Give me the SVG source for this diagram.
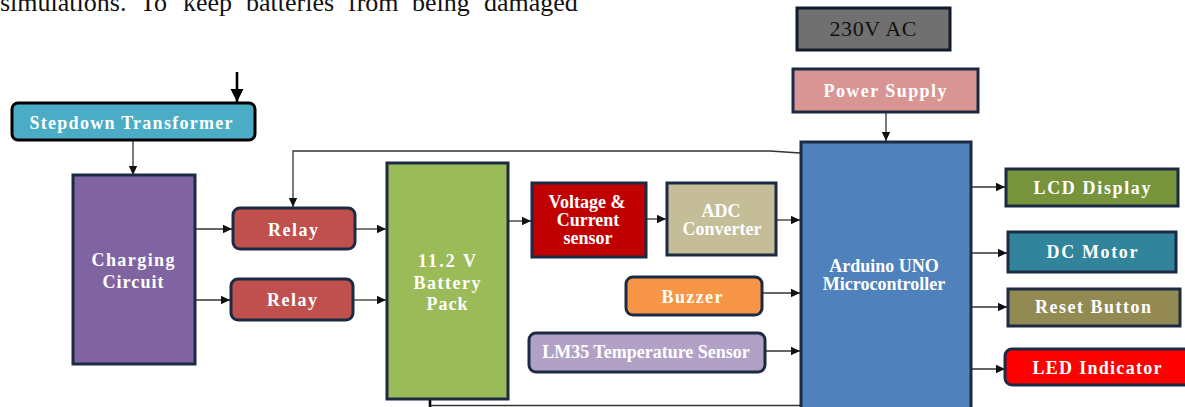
<svg xmlns="http://www.w3.org/2000/svg" width="1185" height="407" viewBox="0 0 1185 407">
<defs>
<marker id="ah" markerUnits="userSpaceOnUse" markerWidth="10" markerHeight="10" refX="9" refY="5" orient="auto">
<path d="M0,0.8 L9,5 L0,9.2 Z" fill="#111"/>
</marker>
<marker id="ahb" markerUnits="userSpaceOnUse" markerWidth="14" markerHeight="14" refX="13" refY="7" orient="auto">
<path d="M0,0.5 L13,7 L0,13.5 Z" fill="#000"/>
</marker>
</defs>
<style>
.bx{stroke:#1c2a44;stroke-width:3}
.lb{font-family:"Liberation Serif","Times New Roman",serif;font-weight:bold;font-size:18px;fill:#fff;text-anchor:middle}
.cn{fill:none;stroke:#333;stroke-width:1.3}
.tk{fill:none;stroke:#000;stroke-width:2.6}
</style>
<rect width="1185" height="407" fill="#fff"/>
<text y="11" font-family="'Liberation Serif','Times New Roman',serif" font-size="26" fill="#111"><tspan x="0">simulations.</tspan><tspan x="140">To</tspan><tspan x="183">keep</tspan><tspan x="246">batteries</tspan><tspan x="348">from</tspan><tspan x="412">being</tspan><tspan x="484">damaged</tspan></text>

<g id="connectors">
<path class="tk" d="M237,72 V102" marker-end="url(#ahb)"/>
<path class="cn" d="M133,140 V175" marker-end="url(#ah)"/>
<path class="cn" d="M800,153 L770,151 H293 V207" marker-end="url(#ah)"/>
<path class="cn" d="M196,229 H232" marker-end="url(#ah)"/>
<path class="cn" d="M196,300 H230" marker-end="url(#ah)"/>
<path class="cn" d="M356,229 H386" marker-end="url(#ah)"/>
<path class="cn" d="M354,300 H386" marker-end="url(#ah)"/>
<path class="cn" d="M509,221 H531" marker-end="url(#ah)"/>
<path class="cn" d="M647,219 H666" marker-end="url(#ah)"/>
<path class="cn" d="M777,220 H800" marker-end="url(#ah)"/>
<path class="cn" d="M763,293 H800" marker-end="url(#ah)"/>
<path class="cn" d="M766,351 H800" marker-end="url(#ah)"/>
<path class="cn" d="M886,112 V141" marker-end="url(#ah)"/>
<path class="cn" d="M972,187 H1005" marker-end="url(#ah)"/>
<path class="cn" d="M972,253 H1007" marker-end="url(#ah)"/>
<path class="cn" d="M972,307 H1007" marker-end="url(#ah)"/>
<path class="cn" d="M972,369 H1005" marker-end="url(#ah)"/>
<path class="cn" d="M430,405.5 H800"/>
<path class="tk" d="M430,407 V321" marker-end="url(#ahb)"/>
</g>

<g id="ac230">
<rect x="797" y="8" width="153" height="42" fill="#707070" stroke="#111a28" stroke-width="3"/>
<text x="873" y="36" font-family="'Liberation Serif','Times New Roman',serif" font-size="22" fill="#111" text-anchor="middle" textLength="87" lengthAdjust="spacing">230V AC</text>
</g>
<g id="power-supply">
<rect class="bx" x="793" y="69" width="185" height="43" fill="#d99594"/>
<text class="lb" x="885" y="97" textLength="123">Power Supply</text>
</g>
<g id="stepdown">
<rect x="12" y="103" width="243" height="37" rx="6" fill="#4bacc6" stroke="#000" stroke-width="3"/>
<text class="lb" x="131" y="129" textLength="203">Stepdown Transformer</text>
</g>
<g id="charging">
<rect class="bx" x="73" y="175" width="122" height="189" fill="#8064a2"/>
<text class="lb" x="133" y="266" textLength="83">Charging</text>
<text class="lb" x="133" y="288" textLength="61">Circuit</text>
</g>
<g id="relay1">
<rect class="bx" x="233" y="208" width="122" height="41" rx="7" fill="#c0504d"/>
<text class="lb" x="293" y="236" textLength="50">Relay</text>
</g>
<g id="relay2">
<rect class="bx" x="231" y="279" width="122" height="41" rx="7" fill="#c0504d"/>
<text class="lb" x="292" y="306" textLength="50">Relay</text>
</g>
<g id="battery">
<rect class="bx" x="387" y="163" width="121" height="236" fill="#9bbb59"/>
<text class="lb" x="447" y="267" textLength="58">11.2 V</text>
<text class="lb" x="447" y="289" textLength="67">Battery</text>
<text class="lb" x="447" y="310" textLength="41">Pack</text>
</g>
<g id="vc-sensor">
<rect class="bx" x="532" y="183" width="114" height="74" fill="#c00000"/>
<text class="lb" x="587" y="208" font-size="14">Voltage &amp;</text>
<text class="lb" x="588" y="226" font-size="14">Current</text>
<text class="lb" x="588" y="244" font-size="14">sensor</text>
</g>
<g id="adc">
<rect class="bx" x="667" y="183" width="109" height="72" fill="#c4bd97"/>
<text class="lb" x="721" y="217" font-size="15">ADC</text>
<text class="lb" x="722" y="235" font-size="15">Converter</text>
</g>
<g id="buzzer">
<rect class="bx" x="626" y="277" width="136" height="38" rx="7" fill="#f79646"/>
<text class="lb" x="692" y="303" textLength="61">Buzzer</text>
</g>
<g id="lm35">
<rect class="bx" x="529" y="333" width="236" height="39" rx="7" fill="#b2a1c7"/>
<text class="lb" x="646" y="358" font-size="15">LM35 Temperature Sensor</text>
</g>
<g id="arduino">
<rect class="bx" x="801" y="142" width="170" height="272" fill="#4f81bd"/>
<text class="lb" x="884" y="272" font-size="14">Arduino UNO</text>
<text class="lb" x="884" y="290" font-size="14">Microcontroller</text>
</g>
<g id="lcd">
<rect class="bx" x="1006" y="169" width="172" height="37" fill="#77933c"/>
<text class="lb" x="1092" y="194" textLength="117">LCD Display</text>
</g>
<g id="dc-motor">
<rect class="bx" x="1008" y="232" width="168" height="40" fill="#31849b"/>
<text class="lb" x="1092" y="258" textLength="91">DC Motor</text>
</g>
<g id="reset">
<rect class="bx" x="1008" y="289" width="172" height="37" fill="#938953"/>
<text class="lb" x="1093" y="313" textLength="116">Reset Button</text>
</g>
<g id="led">
<rect class="bx" x="1005" y="349" width="190" height="36" rx="7" fill="#ff0000"/>
<text class="lb" x="1097" y="374" textLength="129">LED Indicator</text>
</g>
</svg>
